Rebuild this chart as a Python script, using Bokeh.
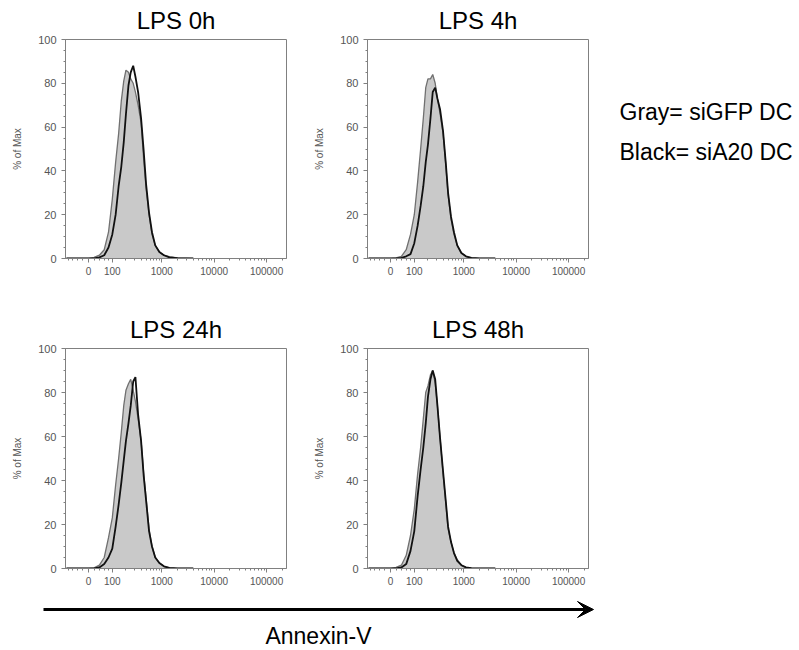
import numpy as np
from bokeh.plotting import figure
from bokeh.layouts import column, row
from bokeh.models import Range1d, FixedTicker, SingleIntervalTicker, Arrow, VeeHead
from bokeh.core.properties import value
from bokeh.embed import file_html
from bokeh.resources import INLINE

# ---------------- data ----------------
titles = ["LPS 0h", "LPS 4h", "LPS 24h", "LPS 48h"]
legend_labels = ["Gray= siGFP DC", "Black= siA20 DC"]
x_axis_label = "Annexin-V"
y_axis_label = "% of Max"

# Annexin-V intensity (bin centres)
intensity = [-90, 0, 20, 40, 60, 80, 100, 120, 140, 160, 180, 200, 225, 250,
             280, 310, 350, 400, 450, 500, 570, 650, 750, 900, 1100, 1400, 2000, 4000]

# % of Max, gray = siGFP DC, black = siA20 DC
sigfp_0h = [0, 0, 0.5, 1.5, 4, 12, 27, 44, 57, 72, 81, 86, 85, 82,
            80, 76, 70, 62, 45, 32, 20, 11, 6, 3, 1.5, 0.8, 0.3, 0]
sia20_0h = [0, 0, 0, 0.5, 1.5, 5, 11, 20, 33, 42, 53, 66, 79, 85,
            88, 83, 76, 64, 49, 34, 21, 12, 6, 3, 1.5, 0.5, 0.2, 0]

sigfp_4h = [0, 0, 0.3, 1, 4, 11, 20, 35, 50, 64, 78, 82, 82, 84,
            80, 73, 66, 57, 43, 29, 18, 11, 6, 2.5, 1, 0.3, 0, 0]
sia20_4h = [0, 0, 0, 0.3, 1, 2, 7, 15, 24, 33, 44, 52, 64, 76,
            78, 73, 68, 58, 44, 30, 19, 12, 6, 2.5, 1, 0.3, 0, 0]

sigfp_24h = [0, 0, 0.3, 1.5, 5, 14, 23, 38, 50, 62, 74, 81, 84, 86,
             81, 76, 68, 58, 43, 32, 18, 10, 5, 2.5, 1, 0.3, 0, 0]
sia20_24h = [0, 0, 0, 0.5, 2, 5, 9, 19, 29, 39, 49, 58, 66, 74,
             85, 87, 70, 58, 42, 31, 17, 10, 5, 2.5, 1, 0.3, 0, 0]

sigfp_48h = [0, 0, 0.5, 1.5, 6, 15, 27, 43, 55, 68, 80, 83, 88, 90,
             84, 74, 59, 43, 30, 18, 12, 7, 4, 1.5, 0.5, 0.2, 0, 0]
sia20_48h = [0, 0, 0, 0.5, 2, 8, 17, 33, 45, 55, 66, 78, 86, 90,
             86, 74, 59, 44, 31, 19, 12, 7, 3.5, 1.5, 0.5, 0.2, 0, 0]

gray_series = [sigfp_0h, sigfp_4h, sigfp_24h, sigfp_48h]
black_series = [sia20_0h, sia20_4h, sia20_24h, sia20_48h]

x_tick_values = [0, 100, 1000, 10000, 100000]
x_tick_labels = ["0", "100", "1000", "10000", "100000"]
x_minor_values = [-80, -60, -40, -20, 20, 40, 60, 80,
                  200, 300, 400, 500, 600, 700, 800, 900,
                  2000, 3000, 4000, 5000, 6000, 7000, 8000, 9000,
                  20000, 30000, 40000, 50000, 60000, 70000, 80000, 90000, 200000]
x_limits = [-95, 240000]

FONT = "Liberation Sans"
AXIS_GRAY = "#808080"
LABEL_GRAY = "#555555"


def T(v):
    """biexponential-like display transform (arcsinh)"""
    return np.round(np.arcsinh(np.asarray(v, dtype=float) / 80.0) / np.log(10.0), 6)


def make_panel(title, gray, black, width, height, left, right, top, bottom):
    p = figure(width=width, height=height, output_backend="svg", toolbar_location=None,
               x_range=Range1d(float(T(x_limits[0])), float(T(x_limits[1]))),
               y_range=Range1d(0, 100),
               min_border_left=left, min_border_right=right,
               min_border_top=top, min_border_bottom=bottom)
    p.title.text = title
    p.title.align = "center"
    p.title.vertical_align = "middle"
    p.title.text_font = FONT
    p.title.text_font_size = "24px"
    p.title.text_font_style = "normal"
    p.title.text_color = "black"
    p.title.standoff = 9

    p.grid.visible = False
    p.outline_line_color = AXIS_GRAY
    p.outline_line_width = 1
    p.background_fill_color = "white"
    p.border_fill_color = "white"

    xs = T(intensity)
    p.varea(x=xs, y1=np.zeros(len(xs)), y2=gray, fill_color="#c9c9c9")
    p.line(x=xs, y=gray, line_color="#707070", line_width=1.3)
    p.line(x=xs, y=black, line_color="#111111", line_width=1.8)

    tick_pos = [float(t) for t in T(x_tick_values)]
    p.xaxis.ticker = FixedTicker(ticks=tick_pos,
                                 minor_ticks=[float(t) for t in T(x_minor_values)])
    p.xaxis.major_label_overrides = {tp: lab for tp, lab in zip(tick_pos, x_tick_labels)}
    p.yaxis.ticker = SingleIntervalTicker(interval=20, num_minor_ticks=4)

    for ax in (p.xaxis[0], p.yaxis[0]):
        ax.axis_line_color = AXIS_GRAY
        ax.major_tick_line_color = AXIS_GRAY
        ax.minor_tick_line_color = AXIS_GRAY
        ax.major_tick_in = 0
        ax.major_tick_out = 4
        ax.minor_tick_in = 0
        ax.minor_tick_out = 2
        ax.major_label_text_font = FONT
        ax.major_label_text_color = LABEL_GRAY
    p.xaxis.major_label_text_font_size = "10px"
    p.xaxis.major_label_standoff = 4
    p.yaxis.major_label_text_font_size = "11px"
    p.yaxis.major_label_standoff = 5
    p.yaxis.axis_label = y_axis_label
    p.yaxis.axis_label_text_font = FONT
    p.yaxis.axis_label_text_font_size = "10px"
    p.yaxis.axis_label_text_font_style = "normal"
    p.yaxis.axis_label_text_color = LABEL_GRAY
    p.yaxis.axis_label_standoff = 12
    return p


p1 = make_panel(titles[0], gray_series[0], black_series[0], 300, 300, 65, 14, 39, 42)
p2 = make_panel(titles[1], gray_series[1], black_series[1], 300, 300, 67, 12, 39, 42)
p3 = make_panel(titles[2], gray_series[2], black_series[2], 300, 290, 65, 14, 48, 22)
p4 = make_panel(titles[3], gray_series[3], black_series[3], 300, 290, 67, 12, 48, 22)


def blank(width, height):
    f = figure(width=width, height=height, output_backend="svg", toolbar_location=None,
               x_range=Range1d(0, width), y_range=Range1d(0, height),
               x_axis_type=None, y_axis_type=None, min_border=0, frame_align=False)
    f.grid.visible = False
    f.outline_line_color = None
    f.background_fill_color = "white"
    f.border_fill_color = "white"
    return f


# legend text panel (x 600..799)
leg = blank(199, 300)
leg.text(x=[19, 19], y=[189, 149], text=legend_labels,
         text_font=value(FONT), text_font_size="23px", text_color="black",
         text_baseline="alphabetic", text_align="left")

# bottom arrow + axis name (y 590..648)
bot = blank(799, 58)
bot.add_layout(Arrow(end=VeeHead(size=16, fill_color="black", line_color="black"),
                     x_start=43, y_start=39, x_end=593, y_end=39,
                     line_width=3, line_color="black"))
bot.text(x=[318], y=[0], text=[x_axis_label], text_font=value(FONT),
         text_font_size="23px", text_color="black",
         text_baseline="bottom", text_align="center")

layout = column(row(p1, p2, leg), row(p3, p4), bot)

open("out.html", "w").write(file_html(layout, INLINE))
